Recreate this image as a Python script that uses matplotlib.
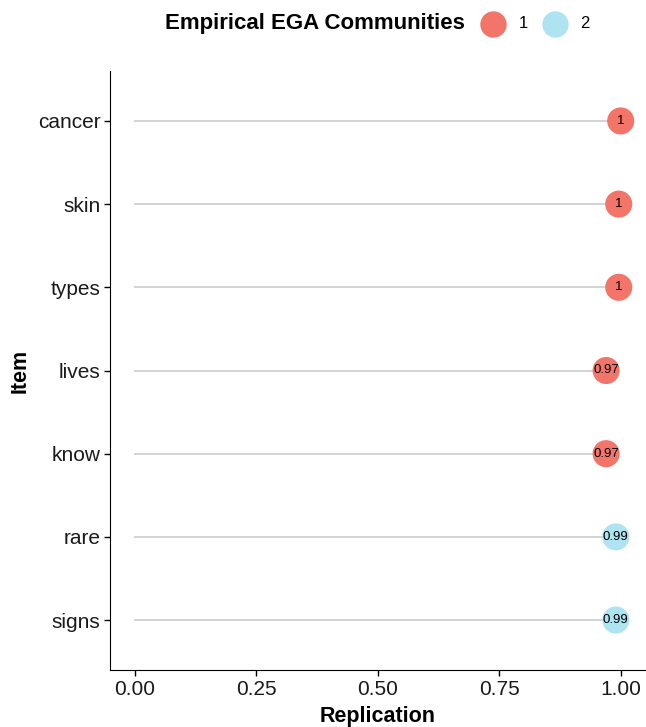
import matplotlib.pyplot as plt
from matplotlib.lines import Line2D

plt.rcParams['font.family'] = ['Liberation Sans', 'DejaVu Sans']

items = ['cancer', 'skin', 'types', 'lives', 'know', 'rare', 'signs']
replication = [1.0, 0.996, 0.996, 0.97, 0.97, 0.99, 0.99]
community = [1, 1, 1, 1, 1, 2, 2]
colors = {1: '#F37468', 2: '#AEE3F2'}

fig = plt.figure(figsize=(6.46, 7.27), dpi=100)
ax = fig.add_axes([110.4 / 646, 57 / 727, (645 - 110.4) / 646, (670 - 71) / 727])

n = len(items)
ypos = [n - i for i in range(n)]
for y, v, c in zip(ypos, replication, community):
    ax.plot([0, v], [y, y], color='#D3D3D3', lw=1.4, zorder=1)
    ax.scatter(v, y, s=380, color=colors[c], zorder=2, edgecolors='none')
    lab = '%g' % round(v, 2)
    ax.text(v, y, lab, ha='center', va='center', fontsize=9.5, zorder=3)

ax.set_xlim(-0.05, 1.05)
ax.set_ylim(0.4, n + 0.6)
ax.set_yticks(ypos)
ax.set_yticklabels(items)
ax.set_xticks([0, 0.25, 0.5, 0.75, 1.0])
ax.set_xticklabels(['0.00', '0.25', '0.50', '0.75', '1.00'])
ax.tick_params(labelsize=15, length=4, width=1, colors='black', labelcolor='#1a1a1a', pad=3)
ax.spines['top'].set_visible(False)
ax.spines['right'].set_visible(False)
ax.set_xlabel('Replication', fontsize=15.5, fontweight='bold', labelpad=5)
ax.set_ylabel('Item', fontsize=15.5, fontweight='bold', labelpad=5)

# legend drawn by hand at the top
ly = 1 - 24 / 727
fig.text(165 / 646, ly, 'Empirical EGA Communities', fontsize=16,
         fontweight='bold', va='center', ha='left')
for k, mx, tx in [(1, 492.7, 523), (2, 555, 585)]:
    fig.add_artist(Line2D([mx / 646], [ly], transform=fig.transFigure, marker='o',
                          ms=19, color=colors[k], mec='none', ls=''))
    fig.text(tx / 646, ly, str(k), fontsize=12, va='center', ha='center')

fig.savefig('out.png', dpi=100)
